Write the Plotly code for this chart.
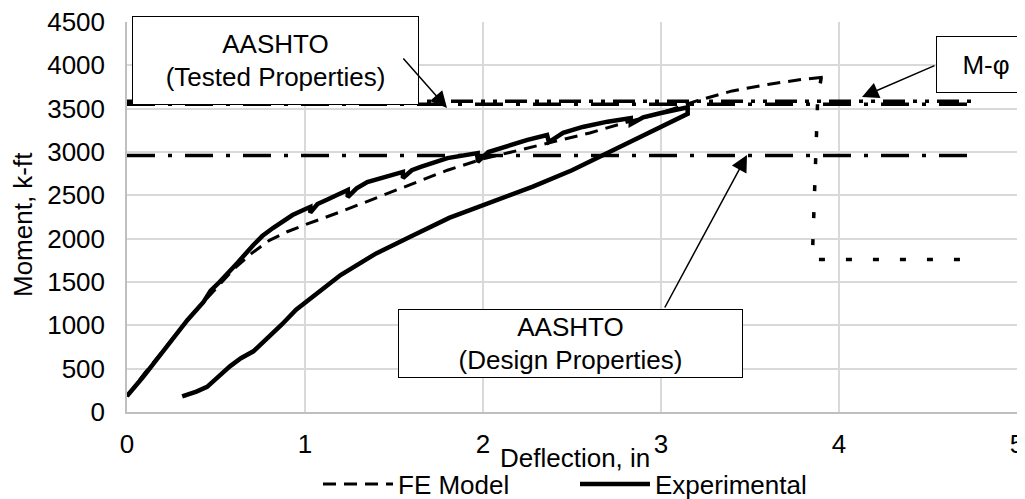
import plotly.graph_objects as go

# ---------------- data ----------------
fe_x = [0.0, 0.1, 0.2, 0.3, 0.4, 0.5, 0.6, 0.7, 0.8, 0.9, 1.0, 1.2, 1.4, 1.6, 1.8, 2.0, 2.2, 2.4, 2.6, 2.8,
        3.0, 3.2, 3.4, 3.6, 3.8, 3.9, 3.9]
fe_y = [180, 450, 700, 960, 1200, 1430, 1650, 1830, 1980, 2080, 2160, 2310, 2470, 2630, 2790, 2920, 3020, 3120,
        3220, 3340, 3450, 3590, 3705, 3780, 3840, 3860, 3790]

exp_x = [0.0, 0.05, 0.09, 0.15, 0.24, 0.30, 0.34, 0.43, 0.47, 0.52, 0.57, 0.62, 0.71, 0.76, 0.82, 0.88, 0.93,
         1.00, 1.03, 1.03, 1.07, 1.12, 1.18, 1.24, 1.24, 1.29, 1.35, 1.46, 1.55, 1.55, 1.60, 1.65, 1.80, 1.97,
         1.97, 2.03, 2.10, 2.25, 2.36, 2.37, 2.45, 2.56, 2.70, 2.83, 2.83, 2.90, 3.00, 3.10, 3.15,
         3.15, 2.95, 2.70, 2.50, 2.28, 2.05, 1.81, 1.60, 1.40, 1.20, 1.10, 1.03, 0.95, 0.87, 0.78, 0.71, 0.64,
         0.58, 0.52, 0.45, 0.39, 0.34, 0.31]
exp_y = [185, 300, 404, 560, 808, 960, 1062, 1270, 1400, 1500, 1620, 1720, 1927, 2030, 2123, 2200, 2273,
         2340, 2366, 2300, 2400, 2446, 2510, 2562, 2480, 2580, 2654, 2712, 2770, 2700, 2790, 2827, 2930, 2988,
         2885, 3000, 3046, 3140, 3196, 3115, 3220, 3289, 3350, 3392, 3320, 3400, 3450, 3495, 3515,
         3440, 3240, 2980, 2790, 2600, 2420, 2240, 2030, 1830, 1580, 1420, 1300, 1180, 1010, 840, 700, 620,
         530, 420, 290, 235, 195, 180]

post_x = [3.90, 3.88, 3.85, 4.75]
post_y = [3860, 3600, 1760, 1760]

hline_x = [0, 4.75]
tested_y = [3550, 3550]
mphi_y = [3585, 3585]
design_y = [2960, 2960]

x_ticks = [0, 1, 2, 3, 4, 5]
y_ticks = [0, 500, 1000, 1500, 2000, 2500, 3000, 3500, 4000, 4500]

FONT = "Liberation Sans, Arial, sans-serif"
FS = 26

fig = go.Figure()

fig.add_trace(go.Scatter(x=hline_x, y=design_y, mode="lines", showlegend=False,
                         line=dict(color="black", width=3.5, dash="28px,13px,4px,13px")))
fig.add_trace(go.Scatter(x=hline_x, y=tested_y, mode="lines", showlegend=False,
                         line=dict(color="black", width=3.5, dash="28px,13px,4px,13px")))
fig.add_trace(go.Scatter(x=hline_x, y=mphi_y, mode="lines", showlegend=False,
                         line=dict(color="black", width=3.5, dash="22px,8px,4px,8px,4px,8px")))
fig.add_trace(go.Scatter(x=post_x, y=post_y, mode="lines", showlegend=False,
                         line=dict(color="black", width=3.5, dash="6px,21px")))
fig.add_trace(go.Scatter(x=fe_x, y=fe_y, mode="lines", name="FE Model",
                         line=dict(color="black", width=3, dash="13px,8px")))
fig.add_trace(go.Scatter(x=exp_x, y=exp_y, mode="lines", name="Experimental",
                         line=dict(color="black", width=4.5)))

# ---------------- layout geometry (reference pixels) ----------------
OFF = 8  # page body margin of the html page
W, H = 1025 - OFF, 499 - OFF
X0, X1, Y0, Y1 = 127, 1017, 412, 22  # plot area edges in the reference picture


def dx(px):
    return (px - X0) / (X1 - X0) * 5


def dy(py):
    return (Y0 - py) / (Y0 - Y1) * 4500


def px_(px):
    return (px - X0) / (X1 - X0)


def py_(py):
    return (Y0 - py) / (Y0 - Y1)


box = dict(showarrow=False, bgcolor="white", bordercolor="black", borderwidth=1, borderpad=0,
           font=dict(family=FONT, size=FS, color="black"), xref="x", yref="y",
           xanchor="center", yanchor="middle")

fig.add_annotation(x=dx(275.5), y=dy(60.5), text="AASHTO<br>(Tested Properties)", width=285, height=87, **box)
fig.add_annotation(x=dx(570.5), y=dy(343.5), text="AASHTO<br>(Design Properties)", width=343, height=67, **box)
fig.add_annotation(x=dx(986), y=dy(64.5), text="M-φ", width=98, height=55, **box)

arrow = dict(text="", showarrow=True, arrowhead=2, arrowsize=2.2, arrowwidth=1.5, arrowcolor="black",
             axref="pixel", ayref="pixel", xref="x", yref="y")
fig.add_annotation(x=dx(447), y=dy(108), ax=402 - 447, ay=57 - 108, **arrow)
fig.add_annotation(x=dx(747), y=dy(155), ax=664 - 747, ay=309 - 155, **arrow)
fig.add_annotation(x=dx(862), y=dy(97), ax=936 - 862, ay=65 - 97, **arrow)

# axis titles
fig.add_annotation(x=px_(575), y=py_(458), xref="paper", yref="paper", xanchor="center", yanchor="middle",
                   text="Deflection, in", showarrow=False, font=dict(family=FONT, size=FS, color="black"))
fig.add_annotation(x=px_(23), y=py_(225), xref="paper", yref="paper", xanchor="center", yanchor="middle",
                   text="Moment, k-ft", showarrow=False, textangle=-90,
                   font=dict(family=FONT, size=FS, color="black"))

fig.update_layout(
    width=W, height=H,
    margin=dict(l=X0 - OFF, r=W - (X1 - OFF), t=Y1 - OFF, b=H - (Y0 - OFF), autoexpand=False),
    paper_bgcolor="white", plot_bgcolor="white",
    font=dict(family=FONT, size=FS, color="black"),
    legend=dict(orientation="h", x=px_(318), xanchor="left",
                y=py_(484), yanchor="middle",
                itemwidth=70, entrywidth=172, font=dict(family=FONT, size=FS, color="black"),
                bgcolor="rgba(0,0,0,0)"),
)
fig.update_xaxes(range=[0, 5], tickvals=x_ticks, showgrid=True, gridcolor="#d9d9d9", gridwidth=1.5,
                 showline=True, linecolor="#bfbfbf", linewidth=1.5, zeroline=False, ticks="",
                 automargin=False, ticklabeloverflow="allow",
                 ticklabelstandoff=8, tickfont=dict(family=FONT, size=FS, color="black"))
fig.update_yaxes(range=[0, 4500], tickvals=y_ticks, showgrid=True, gridcolor="#d9d9d9", gridwidth=1.5,
                 showline=True, linecolor="#bfbfbf", linewidth=1.5, zeroline=False, ticks="",
                 automargin=False, ticklabeloverflow="allow",
                 ticklabelstandoff=15, tickfont=dict(family=FONT, size=FS, color="black"))

fig.write_html("out.html")
